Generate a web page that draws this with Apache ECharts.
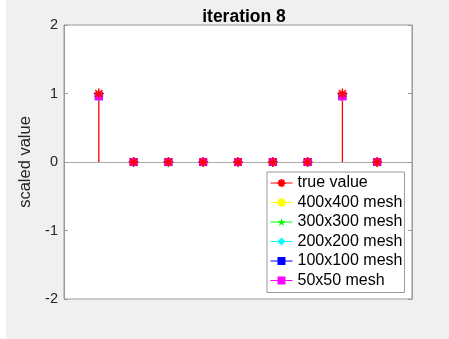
<!DOCTYPE html>
<html>
<head>
<meta charset="utf-8">
<script src="https://cdn.jsdelivr.net/npm/echarts@6/dist/echarts.min.js"></script>
<style>
  html, body { margin: 0; padding: 0; background: #fff; }
  #chart { position: absolute; left: 6px; top: 0; width: 443px; height: 339px; }
</style>
</head>
<body>
<div id="chart"></div>
<script>
// stem positions and values
let xs = [1, 2, 3, 4, 5, 6, 7, 8, 9];
let trueValue = [1, 0, 0, 0, 0, 0, 0, 1, 0];
let mesh400 = [0.98, 0, 0, 0, 0, 0, 0, 0.98, 0];
let mesh300 = [0.97, 0, 0, 0, 0, 0, 0, 0.97, 0];
let mesh200 = [0.96, 0, 0, 0, 0, 0, 0, 0.96, 0];
let mesh100 = [0.96, 0, 0, 0, 0, 0, 0, 0.96, 0];
let mesh50 = [0.96, 0, 0, 0, 0, 0, 0, 0.96, 0];
let yTicks = [-2, -1, 0, 1, 2];

let font = '"Liberation Sans", Helvetica, Arial, sans-serif';
let asterisk = 'path://M0,5L10,5M5,0L5,10M1.5,1.5L8.5,8.5M8.5,1.5L1.5,8.5';
let star = 'path://M5,0L6.123,3.455L9.755,3.455L6.817,5.59L7.939,9.045L5,6.91L2.061,9.045L3.183,5.59L0.245,3.455L3.877,3.455Z';

let pairs = vals => xs.map((x, i) => [x, vals[i]]);

// marker-only series, line kept for the legend icon
let markSeries = (name, vals, color, symbol, size) => ({
    name: name,
    type: 'line',
    data: pairs(vals),
    symbol: symbol,
    symbolSize: size,
    symbolKeepAspect: true,
    lineStyle: { color: color, width: 1, opacity: 0 },
    itemStyle: { color: color, borderWidth: 0 },
    emphasis: { disabled: true }
});

let legendNames = ['true value', '400x400 mesh', '300x300 mesh', '200x200 mesh', '100x100 mesh', '50x50 mesh'];

let option = {
    animation: false,
    backgroundColor: '#f0f0f0',
    title: {
        text: 'iteration 8',
        left: 233,
        textAlign: 'center',
        top: 3,
        textStyle: { fontFamily: font, fontSize: 17.5, fontWeight: 'bold', color: '#000' }
    },
    grid: {
        left: 58, right: 37, top: 25, bottom: 40,
        show: true,
        backgroundColor: '#fff',
        borderColor: '#9a9a9a',
        borderWidth: 1
    },
    legend: {
        orient: 'vertical',
        left: 261,
        top: 172,
        data: legendNames,
        itemWidth: 22,
        itemHeight: 10,
        itemGap: 3.5,
        padding: [3, 2, 4, 3],
        backgroundColor: '#fff',
        borderColor: '#9a9a9a',
        borderWidth: 1,
        borderRadius: 0,
        lineStyle: { opacity: 1, width: 1 },
        textStyle: { fontFamily: font, fontSize: 16, lineHeight: 16, color: '#000' }
    },
    xAxis: {
        type: 'value',
        min: 0,
        max: 10,
        axisLine: { show: true, onZero: true, lineStyle: { color: '#aaaaaa', width: 1 } },
        axisTick: { show: false },
        axisLabel: { show: false },
        splitLine: { show: false }
    },
    yAxis: [
        {
            type: 'value',
            min: yTicks[0],
            max: yTicks[yTicks.length - 1],
            interval: 1,
            name: 'scaled value',
            nameLocation: 'middle',
            nameGap: 26,
            nameTextStyle: { fontFamily: font, fontSize: 16.5, color: '#262626' },
            axisLine: { show: true, lineStyle: { color: '#9a9a9a' } },
            axisTick: { show: true, inside: true, length: 4, lineStyle: { color: '#9a9a9a' } },
            axisLabel: { fontFamily: font, fontSize: 14.5, color: '#262626', margin: 6 },
            splitLine: { show: false }
        },
        {
            type: 'value',
            position: 'right',
            min: yTicks[0],
            max: yTicks[yTicks.length - 1],
            interval: 1,
            axisLine: { show: true, lineStyle: { color: '#9a9a9a' } },
            axisTick: { show: true, inside: true, length: 4, lineStyle: { color: '#9a9a9a' } },
            axisLabel: { show: false },
            splitLine: { show: false }
        }
    ],
    series: [
        {
            type: 'custom',
            data: pairs(trueValue),
            silent: true,
            renderItem: (params, api) => {
                let p0 = api.coord([api.value(0), 0]);
                let p1 = api.coord([api.value(0), api.value(1)]);
                return {
                    type: 'line',
                    shape: { x1: p0[0], y1: p0[1], x2: p1[0], y2: p1[1] },
                    style: { stroke: '#ff0000', lineWidth: 1.3 }
                };
            }
        },
        markSeries('400x400 mesh', mesh400, '#ffff00', 'circle', 8),
        markSeries('300x300 mesh', mesh300, '#00ff00', star, 10),
        markSeries('200x200 mesh', mesh200, '#00ffff', 'diamond', 10),
        markSeries('100x100 mesh', mesh100, '#0000ff', 'rect', 8),
        markSeries('50x50 mesh', mesh50, '#ff00ff', 'rect', 8),
        {
            name: 'true value',
            type: 'line',
            data: pairs(trueValue),
            symbol: asterisk,
            symbolSize: 10,
            symbolKeepAspect: true,
            lineStyle: { color: '#ff0000', width: 1, opacity: 0 },
            itemStyle: { color: 'none', borderColor: '#ff0000', borderWidth: 1.5 },
            emphasis: { disabled: true }
        }
    ]
};

let myChart = echarts.init(document.getElementById('chart'));
myChart.setOption(option);
</script>
</body>
</html>
